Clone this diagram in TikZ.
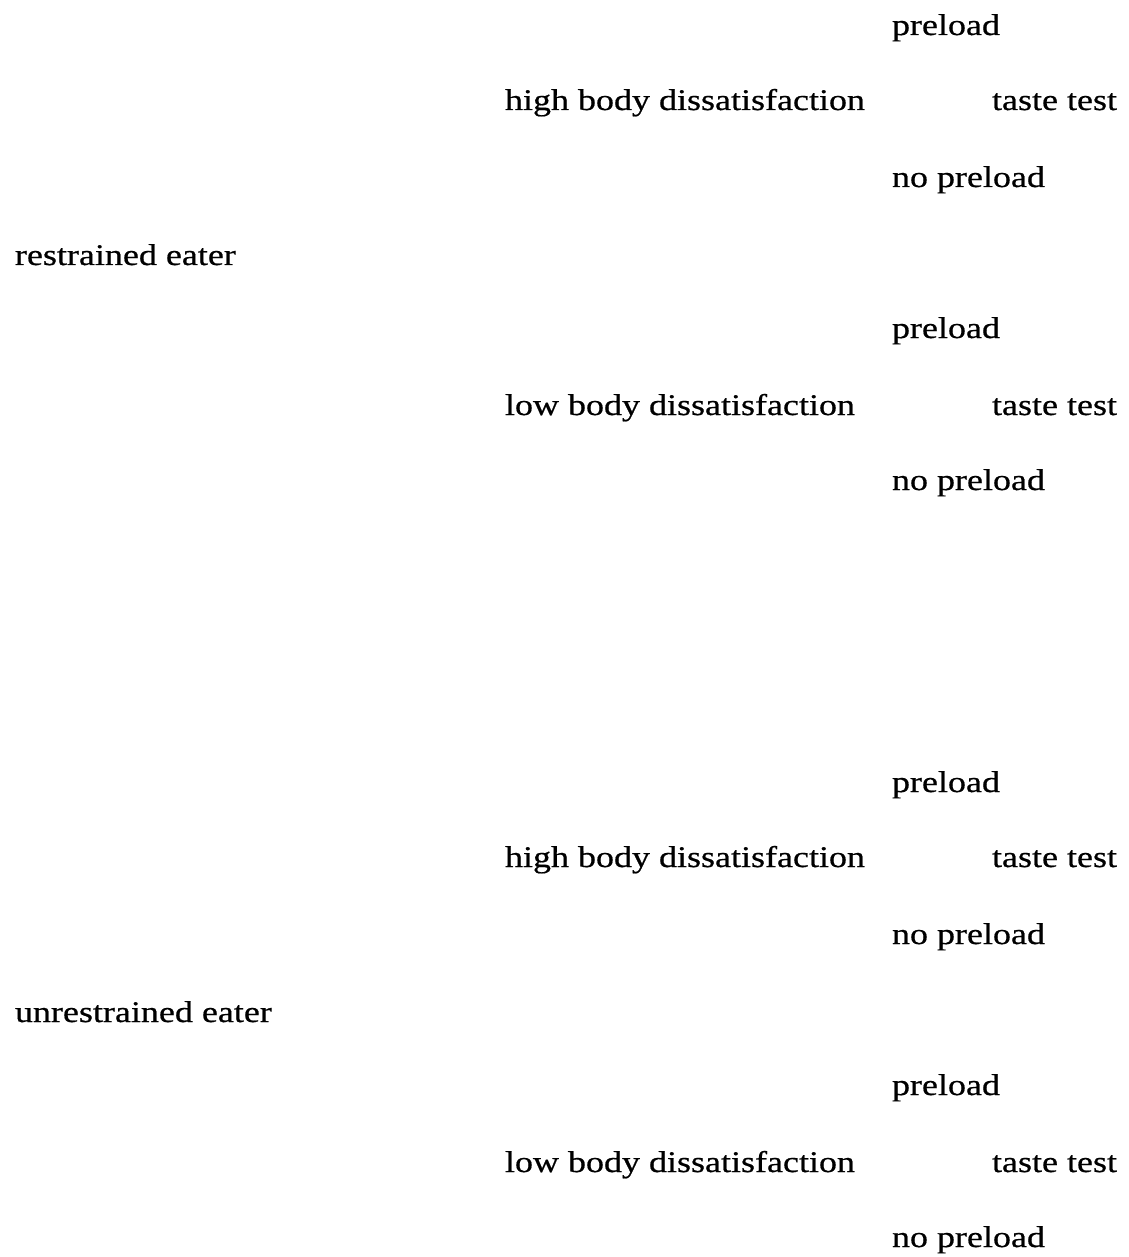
\documentclass[tikz,border=0pt]{standalone}
\usepackage{fontspec}
\setmainfont[FakeStretch=1.2,FakeBold=0.6]{Liberation Serif}
\begin{document}
\begin{tikzpicture}[x=1pt,y=-1pt,
  lbl/.style={anchor=base west,inner sep=0pt,outer sep=0pt,font=\fontsize{30}{33}\selectfont}]
\useasboundingbox (0,0) rectangle (1128,1257);
\foreach \off/\grp/\eater in {0/a/restrained eater,757/b/unrestrained eater}{
  \node[lbl] (\grp p1) at (892,35+\off) {preload};
  \node[lbl] (\grp h) at (505,110+\off) {high body dissatisfaction};
  \node[lbl] (\grp t1) at (992,110+\off) {taste test};
  \node[lbl] (\grp n1) at (892,187+\off) {no preload};
  \node[lbl] (\grp e) at (15,265+\off) {\eater};
  \node[lbl] (\grp p2) at (892,338+\off) {preload};
  \node[lbl] (\grp l) at (505,415+\off) {low body dissatisfaction};
  \node[lbl] (\grp t2) at (992,415+\off) {taste test};
  \node[lbl] (\grp n2) at (892,490+\off) {no preload};
}
\end{tikzpicture}
\end{document}
